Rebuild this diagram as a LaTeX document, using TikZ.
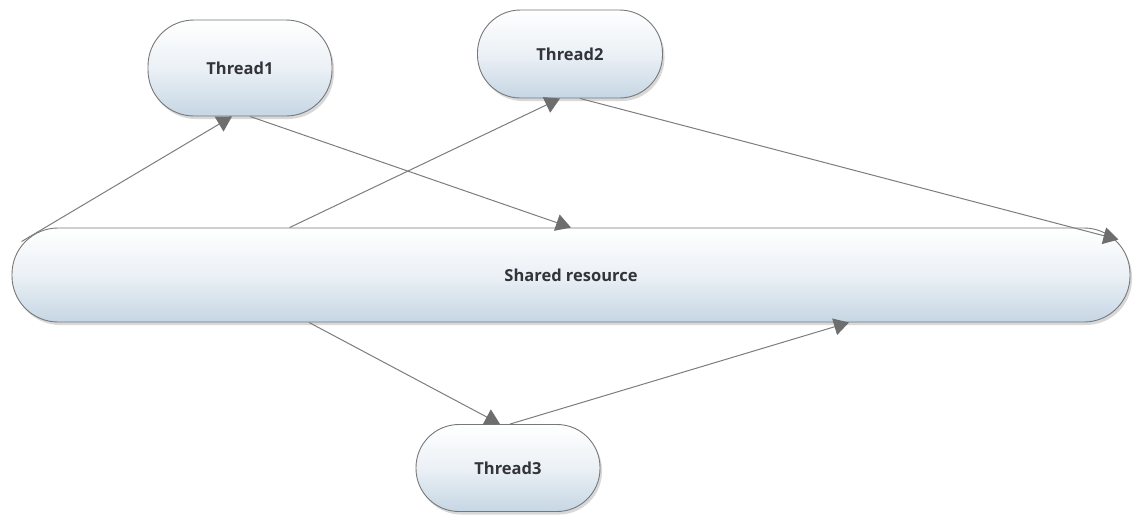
\documentclass[tikz,border=0pt]{standalone}
\usepackage{fontspec}
\setmainfont{Open Sans}
\usetikzlibrary{arrows.meta,shadows,shadings}
\definecolor{pillborder}{RGB}{120,120,120}
\definecolor{pillbottom}{RGB}{198,214,228}
\definecolor{linkgray}{RGB}{125,125,125}
\definecolor{tipgray}{RGB}{110,110,110}
\definecolor{labelgray}{RGB}{50,52,58}
\tikzset{
  pill/.style={draw=pillborder, line width=0.9pt, rectangle, inner sep=0pt,
    top color=white, bottom color=pillbottom, middle color={pillbottom!35!white},
    drop shadow={shadow xshift=2pt, shadow yshift=-3pt, opacity=0.3},
    font=\bfseries\fontsize{16.5}{19}\selectfont, text=labelgray},
  link/.style={draw=linkgray, line width=1pt,
    -{Triangle[width=17pt,length=15pt,fill=tipgray,color=tipgray]}},
}
\begin{document}
\begin{tikzpicture}[x=1pt,y=-1pt]
\useasboundingbox (0,0) rectangle (1137,517);
\fill[white] (0,0) rectangle (1137,517);
\node[pill, minimum width=184pt, minimum height=96pt, rounded corners=46pt] (t1) at (240,68) {Thread1};
\node[pill, minimum width=185pt, minimum height=88pt, rounded corners=43pt] (t2) at (570,54) {Thread2};
\node[pill, minimum width=1118pt, minimum height=94pt, rounded corners=46pt] (sh) at (571,275) {Shared resource};
\node[pill, minimum width=184pt, minimum height=87pt, rounded corners=43pt] (t3) at (508,468) {Thread3};
\coordinate (a1) at ([xshift=10pt,yshift=-14pt]sh.north west);
\coordinate (a2) at ([xshift=278pt]sh.north west);
\coordinate (a3) at ([xshift=-12pt,yshift=-12pt]sh.north east);
\draw[link] (a1) -- ([xshift=-8pt]t1.south);
\draw[link] ([xshift=10pt]t1.south) -- (sh.north);
\draw[link] (a2) -- ([xshift=-10pt]t2.south);
\draw[link] ([xshift=10pt]t2.south) -- (a3);
\draw[link] ([xshift=-262pt]sh.south) -- ([xshift=-8pt]t3.north);
\draw[link] ([xshift=2pt]t3.north) -- ([xshift=278pt]sh.south);
\end{tikzpicture}
\end{document}
